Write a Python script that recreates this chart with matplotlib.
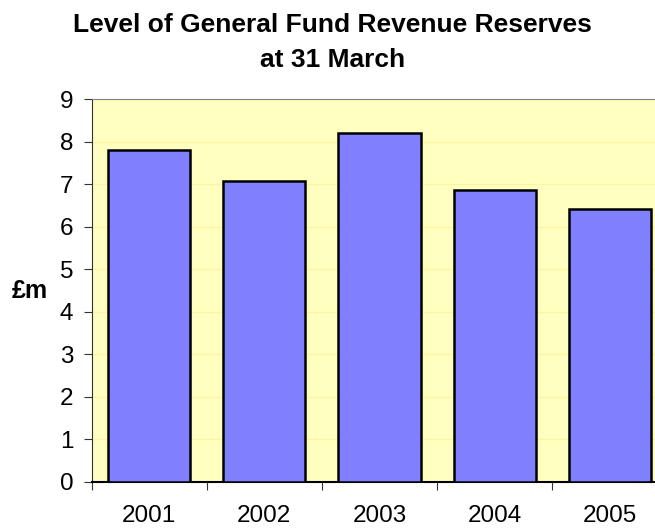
import matplotlib
matplotlib.use("Agg")
import matplotlib.pyplot as plt
import numpy as np

plt.rcParams["font.family"] = ["Liberation Sans", "DejaVu Sans"]

# Data
years = ["2001", "2002", "2003", "2004", "2005"]
reserves = [7.80, 7.07, 8.19, 6.85, 6.41]

fig = plt.figure(figsize=(6.55, 5.3), dpi=100)
# plot area runs slightly past the right edge of the figure, as in the original
ax = fig.add_axes([0.1397, 0.0906, 0.8794, 0.7226])
ax.set_facecolor("#FFFFC0")

x = np.arange(len(years))
ax.bar(x, reserves, width=0.712, color="#8080FF", edgecolor="black",
       linewidth=1.8, zorder=3)

ax.set_xlim(-0.5, len(years) - 0.5)
ax.set_ylim(0, 9)
ax.set_yticks(range(0, 10))
ax.grid(axis="y", color="#FFF5A0", linewidth=1, zorder=0)
ax.set_axisbelow(True)

# category boundary ticks on x, labels centred under bars
ax.set_xticks(np.arange(-0.5, len(years), 1.0))
ax.set_xticklabels([])
ax.set_xticks(x, minor=True)
ax.set_xticklabels(years, minor=True, fontsize=17.5)
ax.tick_params(axis="x", which="minor", length=0, pad=16.5)
ax.tick_params(axis="x", which="major", length=5.5, color="#333333")
ax.tick_params(axis="y", length=6, labelsize=17.5, color="#333333", pad=7)

ax.spines["top"].set_color("#808080")
ax.spines["left"].set_color("#333333")
ax.spines["bottom"].set_color("black")
ax.spines["bottom"].set_linewidth(1.5)
ax.spines["right"].set_visible(False)

fig.text(0.507, 0.9396, "Level of General Fund Revenue Reserves",
         ha="center", va="baseline", fontsize=19, fontweight="bold")
fig.text(0.507, 0.8736, "at 31 March",
         ha="center", va="baseline", fontsize=19, fontweight="bold")
fig.text(0.0458, 0.4377, "£m", ha="center", va="baseline", fontsize=18,
         fontweight="bold")

fig.savefig("out.png", dpi=100)
